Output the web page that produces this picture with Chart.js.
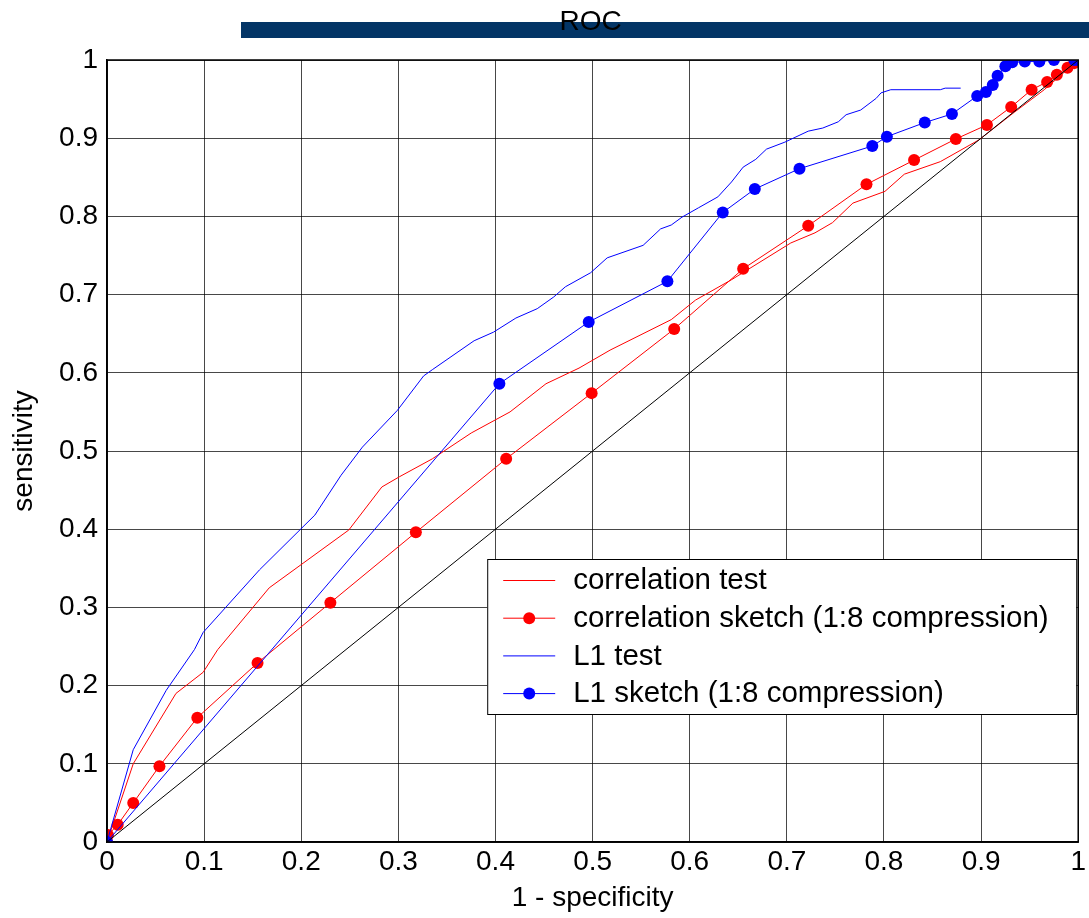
<!DOCTYPE html>
<html>
<head>
<meta charset="utf-8">
<script src="https://cdn.jsdelivr.net/npm/chart.js@4.4.1/dist/chart.umd.min.js"></script>
<style>
  html, body { margin: 0; padding: 0; background: #fff; }
  #wrap { width: 1089px; height: 918px; }
</style>
</head>
<body>
<div id="wrap"><canvas id="roc"></canvas></div>
<script>
// tick values for both axes
const xTicks = [0, 0.1, 0.2, 0.3, 0.4, 0.5, 0.6, 0.7, 0.8, 0.9, 1];
const yTicks = [0, 0.1, 0.2, 0.3, 0.4, 0.5, 0.6, 0.7, 0.8, 0.9, 1];

// correlation test (thin red line)
const corrTestX = [0, 0.027, 0.071, 0.099, 0.114, 0.167, 0.249, 0.283, 0.301, 0.335, 0.375, 0.415, 0.452, 0.486, 0.518, 0.581, 0.606, 0.643, 0.704, 0.729, 0.747, 0.768, 0.801, 0.821, 0.858, 0.898, 0.934, 0.965, 1];
const corrTestY = [0, 0.1, 0.19, 0.217, 0.246, 0.325, 0.399, 0.454, 0.467, 0.49, 0.523, 0.55, 0.586, 0.606, 0.629, 0.668, 0.693, 0.719, 0.766, 0.779, 0.792, 0.817, 0.832, 0.854, 0.87, 0.898, 0.933, 0.962, 1];

// correlation sketch (red with dots)
const corrSketchX = [0, 0.001, 0.011, 0.027, 0.054, 0.093, 0.155, 0.23, 0.318, 0.411, 0.499, 0.584, 0.655, 0.722, 0.782, 0.831, 0.874, 0.906, 0.931, 0.952, 0.968, 0.978, 0.989, 0.996, 1];
const corrSketchY = [0, 0.009, 0.022, 0.05, 0.097, 0.159, 0.229, 0.306, 0.396, 0.49, 0.574, 0.656, 0.733, 0.788, 0.841, 0.872, 0.899, 0.917, 0.94, 0.962, 0.972, 0.981, 0.99, 0.996, 1];

// L1 test (thin blue line)
const l1TestX = [0, 0.027, 0.061, 0.09, 0.099, 0.157, 0.214, 0.241, 0.263, 0.299, 0.326, 0.335, 0.378, 0.398, 0.421, 0.443, 0.46, 0.472, 0.498, 0.515, 0.552, 0.57, 0.581, 0.592, 0.609, 0.629, 0.643, 0.655, 0.668, 0.679, 0.698, 0.722, 0.737, 0.753, 0.761, 0.776, 0.792, 0.797, 0.807, 0.858, 0.863, 0.879];
const l1TestY = [0, 0.118, 0.194, 0.246, 0.268, 0.348, 0.418, 0.469, 0.505, 0.552, 0.596, 0.604, 0.641, 0.652, 0.67, 0.682, 0.697, 0.71, 0.728, 0.747, 0.763, 0.784, 0.789, 0.799, 0.811, 0.825, 0.844, 0.863, 0.873, 0.886, 0.895, 0.909, 0.913, 0.921, 0.93, 0.936, 0.951, 0.958, 0.962, 0.962, 0.964, 0.964];

// L1 sketch (blue with dots)
const l1SketchX = [0, 0.404, 0.496, 0.577, 0.634, 0.667, 0.713, 0.788, 0.803, 0.842, 0.87, 0.896, 0.905, 0.912, 0.917, 0.925, 0.932, 0.945, 0.96, 0.975, 0.996, 1];
const l1SketchY = [0, 0.586, 0.665, 0.717, 0.805, 0.835, 0.861, 0.89, 0.902, 0.92, 0.931, 0.954, 0.959, 0.968, 0.98, 0.992, 0.997, 0.998, 0.998, 1, 1, 1];

// chance diagonal
const diagX = [0, 1];
const diagY = [0, 1];

const legendLabels = ['correlation test', 'correlation sketch (1:8 compression)', 'L1 test', 'L1 sketch (1:8 compression)'];

function pts(xs, ys) {
  return xs.map((x, i) => ({ x: x, y: ys[i] }));
}

const FONT = '"Liberation Sans", Arial, Helvetica, sans-serif';

// title bar + "ROC", frame around plot, legend box
const decor = {
  id: 'decor',
  afterDatasetsDraw(chart) {
    const ctx = chart.ctx;
    const a = chart.chartArea;
    ctx.save();
    // frame
    ctx.strokeStyle = '#000';
    ctx.lineWidth = 1.5;
    ctx.strokeRect(a.left, a.top, a.right - a.left, a.bottom - a.top);

    // legend
    const lx = a.right - 591, ly = a.top + 499, lw = 589, lh = 155;
    ctx.fillStyle = '#fff';
    ctx.fillRect(lx, ly, lw, lh);
    ctx.strokeStyle = '#000';
    ctx.lineWidth = 1;
    ctx.strokeRect(lx + 0.5, ly + 0.5, lw, lh);
    ctx.font = '29.5px ' + FONT;
    ctx.textBaseline = 'middle';
    ctx.textAlign = 'left';
    chart.data.datasets.slice(0, 4).forEach((ds, i) => {
      const cy = ly + 21 + i * 37.7;
      ctx.strokeStyle = ds.borderColor;
      ctx.lineWidth = 1;
      ctx.beginPath();
      ctx.moveTo(lx + 16, cy + 0.5);
      ctx.lineTo(lx + 68, cy + 0.5);
      ctx.stroke();
      if (ds.pointRadius > 0) {
        ctx.fillStyle = ds.borderColor;
        ctx.beginPath();
        ctx.arc(lx + 42, cy + 0.5, 6, 0, Math.PI * 2);
        ctx.fill();
      }
      ctx.fillStyle = '#000';
      ctx.fillText(legendLabels[i], lx + 86, cy + 1);
    });
    ctx.restore();
  },
  afterDraw(chart) {
    const ctx = chart.ctx;
    const a = chart.chartArea;
    ctx.save();
    ctx.fillStyle = '#033566';
    ctx.fillRect(a.left + 134, 22, chart.width - (a.left + 134), 16);
    ctx.fillStyle = '#000';
    ctx.font = '28px ' + FONT;
    ctx.textAlign = 'center';
    ctx.textBaseline = 'alphabetic';
    ctx.fillText('ROC', (a.left + a.right) / 2 - 2, 30);
    ctx.restore();
  }
};

new Chart(document.getElementById('roc'), {
  type: 'line',
  data: {
    datasets: [
      {
        label: legendLabels[0],
        data: pts(corrTestX, corrTestY),
        borderColor: '#ff0000',
        borderWidth: 1,
        pointRadius: 0,
        order: 5
      },
      {
        label: legendLabels[1],
        data: pts(corrSketchX, corrSketchY),
        borderColor: '#ff0000',
        backgroundColor: '#ff0000',
        borderWidth: 1,
        pointRadius: 6,
        pointBorderWidth: 0,
        order: 4
      },
      {
        label: legendLabels[2],
        data: pts(l1TestX, l1TestY),
        borderColor: '#0000ff',
        borderWidth: 1,
        pointRadius: 0,
        order: 3
      },
      {
        label: legendLabels[3],
        data: pts(l1SketchX, l1SketchY),
        borderColor: '#0000ff',
        backgroundColor: '#0000ff',
        borderWidth: 1,
        pointRadius: 6,
        pointBorderWidth: 0,
        order: 2
      },
      {
        label: 'diagonal',
        data: pts(diagX, diagY),
        borderColor: '#000',
        borderWidth: 1,
        pointRadius: 0,
        order: 1
      }
    ]
  },
  options: {
    responsive: true,
    maintainAspectRatio: false,
    animation: false,
    events: [],
    layout: { padding: { top: 60, right: 8, left: 0, bottom: 0 } },
    elements: { line: { tension: 0 } },
    plugins: {
      legend: { display: false },
      tooltip: { enabled: false }
    },
    scales: {
      x: {
        type: 'linear',
        min: 0,
        max: 1,
        afterBuildTicks: s => { s.ticks = xTicks.map(v => ({ value: v })); },
        afterFit: s => { s.height = 76; },
        ticks: {
          color: '#000',
          font: { family: FONT, size: 28 },
          padding: 3,
          maxRotation: 0,
          callback: v => String(Number(v.toFixed(1)))
        },
        grid: { color: 'rgba(0,0,0,0.72)', lineWidth: 1, drawTicks: false },
        border: { color: '#000', width: 1.5 },
        title: {
          display: true,
          text: '1 - specificity',
          color: '#000',
          font: { family: FONT, size: 28 },
          padding: { top: 0, bottom: 3 }
        }
      },
      y: {
        type: 'linear',
        min: 0,
        max: 1,
        afterBuildTicks: s => { s.ticks = yTicks.map(v => ({ value: v })); },
        afterFit: s => { s.width = 107; },
        ticks: {
          color: '#000',
          font: { family: FONT, size: 28 },
          padding: 9,
          callback: v => String(Number(v.toFixed(1)))
        },
        grid: { color: 'rgba(0,0,0,0.72)', lineWidth: 1, drawTicks: false },
        border: { color: '#000', width: 1.5 },
        title: {
          display: true,
          text: 'sensitivity',
          color: '#000',
          font: { family: FONT, size: 28 },
          padding: { top: 7, bottom: 0 }
        }
      }
    }
  },
  plugins: [decor]
});
</script>
</body>
</html>
